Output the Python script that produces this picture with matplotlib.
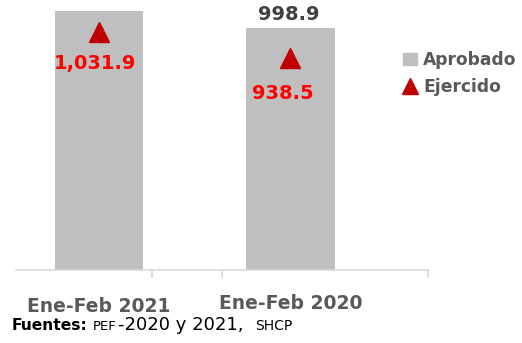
import matplotlib.pyplot as plt
from matplotlib.lines import Line2D
from matplotlib.patches import Patch

plt.rcParams['font.family'] = ['DejaVu Sans']

categories = ['Ene-Feb 2021', 'Ene-Feb 2020']
aprobado = [1069.0, 998.9]
ejercido = [1031.9, 938.5]
ejercido_labels = ['1,031.9', '938.5']
aprobado_labels = [None, '998.9']

GRAY = '#bfbfbf'
RED = '#c00000'
TXT = '#595959'

fig = plt.figure(figsize=(5.22, 3.43), dpi=100)
ax = fig.add_axes([16 / 522, 73 / 343, 412 / 522, 270 / 343])
x = [0, 1]
ax.bar(x, aprobado, width=0.46, color=GRAY, zorder=2)
ax.set_xlim(-0.433, 1.718)
ax.set_ylim(0, 1114.5)
for s in ['top', 'right', 'left']:
    ax.spines[s].set_visible(False)
ax.spines['bottom'].set_color('#d9d9d9')
ax.spines['bottom'].set_linewidth(1.2)
ax.set_yticks([])
ax.set_xticks([0.277, 0.642, 1.718])
ax.tick_params(axis='x', length=6, color='#d9d9d9', width=1.2, labelbottom=False)

# etiquetas de categoria (desalineadas como en el original)
ax.text(x[0], -0.135, categories[0], transform=ax.get_xaxis_transform(),
        ha='center', va='center', fontsize=13.5, fontweight='bold', color=TXT)
ax.text(x[1], -0.124, categories[1], transform=ax.get_xaxis_transform(),
        ha='center', va='center', fontsize=13.5, fontweight='bold', color=TXT)

for xi, v, lab in zip(x, aprobado, aprobado_labels):
    if lab:
        ax.text(xi - 0.01, v + 55, lab, ha='center', va='center', fontsize=14,
                fontweight='bold', color='#404040')

ax2 = ax.twinx()
ax2.set_ylim(177, 1147)
ax2.axis('off')
ax2.plot(x, ejercido, linestyle='none', marker='^', markersize=15, color=RED, zorder=3)
offs = [-0.02, -0.04]
dy = [112, 126]
for xi, v, lab, o, d in zip(x, ejercido, ejercido_labels, offs, dy):
    ax2.text(xi + o, v - d, lab, ha='center', va='center', fontsize=14,
             fontweight='bold', color='#ff0000')

handles = [Patch(color=GRAY, label='Aprobado'),
           Line2D([], [], linestyle='none', marker='^', markersize=11.5, color=RED, label='Ejercido')]
leg = fig.legend(handles=handles, loc='upper left', bbox_to_anchor=(396 / 522, 1 - 44 / 343),
                 frameon=False, fontsize=12.3, handlelength=0.8, handletextpad=0.4,
                 labelspacing=0.55, borderaxespad=0)
for t in leg.get_texts():
    t.set_color(TXT)
    t.set_fontweight('bold')

fig.text(12 / 522, 1 - 325 / 343, 'Fuentes:', fontsize=11.2, fontweight='bold', va='center')
fig.text(93 / 522, 1 - 326 / 343, 'PEF', fontsize=9.5, va='center')
fig.text(118 / 522, 1 - 325 / 343, '-2020 y 2021,', fontsize=13, va='center')
fig.text(255 / 522, 1 - 326 / 343, 'SHCP', fontsize=10, va='center')

fig.savefig('out.png', dpi=100)
